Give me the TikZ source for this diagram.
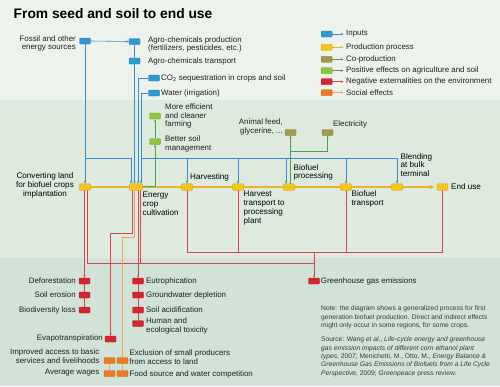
\documentclass[tikz,border=0pt]{standalone}
\usepackage{fontspec}
\setmainfont{Liberation Sans}
\usetikzlibrary{arrows.meta,calc}
\pgfdeclarelayer{bgfill}
\pgfdeclarelayer{lines}
\pgfsetlayers{bgfill,lines,main}
\definecolor{bgtop}{HTML}{EEF2EC}
\definecolor{bgmid}{HTML}{DDEADD}
\definecolor{bgbot}{HTML}{D1E2D7}
\definecolor{cblue}{HTML}{2E9AD0}
\definecolor{lblue}{HTML}{3A8DCB}
\definecolor{cyel}{HTML}{F5C518}
\definecolor{lyel}{HTML}{EFB02E}
\definecolor{colive}{HTML}{A39A4C}
\definecolor{cgreen}{HTML}{8CC63F}
\definecolor{lgreen}{HTML}{4E9E5A}
\definecolor{cred}{HTML}{D5262F}
\definecolor{lred}{HTML}{D2484F}
\definecolor{corange}{HTML}{F07A22}
\definecolor{lorange}{HTML}{EFA266}
\definecolor{txtc}{HTML}{1F1F1F}
\definecolor{notec}{HTML}{3A3A3A}
\tikzset{
  boxs/.style={rectangle, rounded corners=0.8pt, minimum width=11pt, minimum height=6pt, inner sep=0pt, line width=0.3pt},
  inb/.style={boxs, fill=cblue, draw=cblue!80!black},
  prb/.style={boxs, minimum height=6.5pt, fill=cyel, draw=cyel!80!black},
  cob/.style={boxs, fill=colive, draw=colive!80!black},
  posb/.style={boxs, fill=cgreen, draw=cgreen!80!black},
  negb/.style={boxs, fill=cred, draw=cred!80!black},
  socb/.style={boxs, fill=corange, draw=corange!80!black},
  txt/.style={font=\fontsize{7.9}{8.8}\selectfont, inner sep=0pt, text=txtc, align=left},
  ptxt/.style={font=\fontsize{8.1}{8.7}\selectfont, inner sep=0pt, text=black, align=left},
  notet/.style={font=\fontsize{6.7}{8.3}\selectfont, inner sep=0pt, text=notec, align=left},
  tip/.style={-{Stealth[length=2.6pt,width=2.2pt]}},
  bll/.style={draw=lblue, line width=0.6pt},
  gll/.style={draw=lgreen, line width=0.6pt},
  rll/.style={draw=lred, line width=0.6pt},
  oll/.style={draw=lorange, line width=0.6pt},
  yll/.style={draw=lyel, line width=0.6pt},
  prodline/.style={draw=lyel, line width=1.8pt},
}
\begin{document}
\begin{tikzpicture}[x=1pt,y=-1pt]
\begin{pgfonlayer}{bgfill}
\fill[bgtop] (0,0) rectangle (500,100);
\fill[bgmid] (0,100) rectangle (500,258);
\fill[bgbot] (0,258) rectangle (500,386);
\end{pgfonlayer}
\useasboundingbox (0,0) rectangle (500,386);

\node[anchor=base west, font=\fontsize{13.8}{16}\selectfont\bfseries, inner sep=0pt, text=black] (title) at (13.5,18.3) {From seed and soil to end use};

% inputs
\node[inb] (fos) at (85,41) {};
\node[txt, align=right, anchor=east] (fost) at (76,43.5) {Fossil and other\\energy sources};
\node[inb] (apr) at (134.5,41.5) {};
\node[txt, anchor=west] (aprt) at (148,44.5) {Agro-chemicals production\\(fertilizers, pesticides, etc.)};
\node[inb] (atr) at (134.5,61) {};
\node[txt, anchor=west] (atrt) at (148,61) {Agro-chemicals transport};
\node[inb] (co2) at (154,78) {};
\node[txt, anchor=west] (co2t) at (161,78) {CO\textsubscript{2} sequestration in crops and soil};
\node[inb] (wat) at (154,93) {};
\node[txt, anchor=west] (watt) at (161,93) {Water (irrigation)};

% positive effects
\node[posb] (me) at (155,116) {};
\node[txt, anchor=west] (met) at (165,116) {More efficient\\and cleaner\\farming};
\node[posb] (bs) at (155,141.5) {};
\node[txt, anchor=west] (bst) at (165,144) {Better soil\\management};

% co-production
\node[cob] (af) at (290.5,132.5) {};
\node[txt, align=right, anchor=east] (aft) at (283,127) {Animal feed,\\glycerine, ...};
\node[cob] (el) at (327.5,132.5) {};
\node[txt, anchor=west] (elt) at (333,124.5) {Electricity};

% production process
\node[prb] (cl) at (85,187) {};
\node[ptxt, align=center] (clt) at (45,185.5) {Converting land\\for biofuel crops\\implantation};
\node[prb, minimum width=13pt] (ec) at (136,187) {};
\node[ptxt, anchor=west] (ect) at (142.5,203.7) {Energy\\crop\\cultivation};
\node[prb] (hv) at (187,187) {};
\node[ptxt, anchor=west] (hvt) at (190,177.3) {Harvesting};
\node[prb] (ht) at (238,187) {};
\node[ptxt, anchor=west] (htt) at (243.5,208) {Harvest\\transport to\\processing\\plant};
\node[prb] (bp) at (289,187) {};
\node[ptxt, anchor=west] (bpt) at (293.5,172.5) {Biofuel\\processing};
\node[prb] (bt) at (346,187) {};
\node[ptxt, anchor=west] (btt) at (351.5,199.2) {Biofuel\\transport};
\node[prb] (bl) at (397,187) {};
\node[ptxt, anchor=west] (blt) at (400.5,165) {Blending\\at bulk\\terminal};
\node[prb] (eu) at (442.5,187) {};
\node[ptxt, anchor=west] (eut) at (451,187) {End use};

% negative effects
\node[negb] (d1) at (84.5,281) {};
\node[txt, anchor=east] (d1t) at (76,281) {Deforestation};
\node[negb] (d2) at (84.5,295) {};
\node[txt, anchor=east] (d2t) at (76,295) {Soil erosion};
\node[negb] (d3) at (84.5,310) {};
\node[txt, anchor=east] (d3t) at (76,310) {Biodiversity loss};
\node[negb] (e1) at (138,281) {};
\node[txt, anchor=west] (e1t) at (146,281.5) {Eutrophication};
\node[negb] (e2) at (138,295) {};
\node[txt, anchor=west] (e2t) at (146,295.5) {Groundwater depletion};
\node[negb] (e3) at (138,310) {};
\node[txt, anchor=west] (e3t) at (146,310) {Soil acidification};
\node[negb] (e4) at (138,323.5) {};
\node[txt, anchor=west] (e4t) at (146,326.2) {Human and\\ecological toxicity};
\node[negb] (ev) at (110.5,339) {};
\node[txt, anchor=east] (evt) at (103,338.5) {Evapotranspiration};
\node[negb] (gh) at (314,281) {};
\node[txt, anchor=west] (ght) at (320.7,281.5) {Greenhouse gas emissions};

% social effects
\node[socb] (ia) at (109.5,360.5) {};
\node[txt, align=right, anchor=east] (iat) at (99.5,356.2) {Improved access to basic\\services and livelihoods};
\node[socb] (aw) at (109.5,373.5) {};
\node[txt, anchor=east] (awt) at (99.5,373) {Average wages};
\node[socb] (ex) at (122.5,360.5) {};
\node[txt, anchor=west] (ext) at (129.3,357.2) {Exclusion of small producers\\from access to land};
\node[socb] (fs) at (122.5,373.5) {};
\node[txt, anchor=west] (fst) at (129.3,374) {Food source and water competition};

% legend
\node[inb] (lg1) at (326.7,34) {};
\node[prb, minimum height=6pt] (lg2) at (326.7,47.3) {};
\node[cob] (lg3) at (326.7,59.3) {};
\node[posb] (lg4) at (326.7,70.7) {};
\node[negb] (lg5) at (326.7,81.7) {};
\node[socb] (lg6) at (326.7,92.7) {};
\node[txt, anchor=west] (lt1) at (346,34) {Inputs};
\node[txt, anchor=west] (lt2) at (346,47.3) {Production process};
\node[txt, anchor=west] (lt3) at (346,59.3) {Co-production};
\node[txt, anchor=west] (lt4) at (346,70.7) {Positive effects on agriculture and soil};
\node[txt, anchor=west] (lt5) at (346,81.7) {Negative externalities on the environment};
\node[txt, anchor=west] (lt6) at (346,92.7) {Social effects};

% notes
\node[notet, anchor=base west] (note) at (321,327.3) {Note: the diagram shows a generalized process for first\\generation biofuel production. Direct and indirect effects\\might only occur in some regions, for some crops.};
\node[notet, anchor=base west] (src) at (321,375) {Source: Wang \textit{et al.}, \textit{Life-cycle energy and greenhouse}\\\textit{gas emission impacts of different corn ethanol plant}\\\textit{types}, 2007; Menichetti, M., Otto, M., \textit{Energy Balance \&}\\\textit{Greenhouse Gas Emissions of Biofuels from a Life Cycle}\\\textit{Perspective}, 2009; \textit{Greenpeace} press review.};

\begin{pgfonlayer}{lines}
% legend arrows
\draw[bll, tip] (lg1.east) -- (lt1.west -| 343.5,0);
\draw[yll, tip] (lg2.east) -- (lt2.west -| 343.5,0);
\draw[gll, tip] (lg3.east) -- (lt3.west -| 343.5,0);
\draw[gll, tip] (lg4.east) -- (lt4.west -| 343.5,0);
\draw[rll, tip] (lg5.east) -- (lt5.west -| 343.5,0);
\draw[oll, tip] (lg6.east) -- (lt6.west -| 343.5,0);

% production line
\draw[prodline] (cl.center) -- (bl.center);
\draw[prodline, -{Stealth[length=5pt,width=4.5pt]}] (bl.center) -- ($(eu.west)+(-2.5,0)$);

% inputs
\draw[bll, tip] (fos.east) -- (apr.west);
\draw[bll, tip] (fos.south) -- (cl.north);
\coordinate (j1) at (131,158);
\draw[bll] (fos.south |- j1) -- (j1);
\draw[bll, tip] (j1) -- (j1 |- ec.north);
\draw[bll] (apr.south) -- (atr.north);
\draw[bll, tip] (atr.south) -- (atr.south |- ec.north);
\coordinate (kc) at (138,78);
\draw[bll, tip] (co2.west) -- (kc) -- (kc |- ec.north);
\coordinate (kw) at (141,93);
\draw[bll, tip] (wat.west) -- (kw) -- (kw |- ec.north);
\coordinate (j2) at (141,158);
\draw[bll, tip] (j2) -- (bl.north |- j2) -- (bl.north);
\draw[bll, tip] (hv.north |- j2) -- (hv.north);
\draw[bll, tip] (ht.north |- j2) -- (ht.north);
\coordinate (kp) at (286,158);
\draw[bll, tip] (kp) -- (kp |- bp.north);
\draw[bll, tip] (bt.north |- j2) -- (bt.north);

% positive
\draw[gll, tip] (bs.north) -- (me.south);
\coordinate (g1) at (155,186);
\draw[gll, tip] (ec.east |- g1) -- (g1) -- (bs.south);

% co-production
\draw[gll, tip] (af.south |- bp.north) -- (af.south);
\coordinate (g2) at (290.5,151);
\draw[gll, tip] (g2) -- (g2 -| el.south) -- (el.south);

% negative
\draw[rll, tip] (d1.north |- cl.south) -- (d1.north);
\coordinate (r1) at (87.5,263);
\draw[rll] (r1 |- cl.south) -- (r1) -- (r1 -| gh.north);
\coordinate (r2) at (187,252);
\draw[rll] (hv.south) -- (r2) -- (r2 -| eu.south) -- (eu.south);
\draw[rll] (ht.south) -- (ht.south |- r2);
\draw[rll] (bt.south) -- (bt.south |- r2);
\draw[rll, tip] (gh.north |- r2) -- (gh.north);
\coordinate (r3) at (139.8,263);
\draw[rll] (r3 |- ec.south) -- (r3);
\draw[rll, tip] (e1.north |- ec.south) -- (e1.north);
\coordinate (r4) at (132,233);
\draw[rll, tip] (r4 |- ec.south) -- (r4) -- (r4 -| ev.north) -- (ev.north);
\coordinate (o1) at (134.5,237.5);
\draw[oll, tip] (o1 |- ec.south) -- (o1) -- (o1 -| ex.north) -- (ex.north);
\draw[rll] (d1) -- (d2) -- (d3);
\draw[rll] (e1) -- (e2) -- (e3) -- (e4);
\draw[oll] (ia) -- (aw);
\draw[oll] (ex) -- (fs);
\end{pgfonlayer}
\end{tikzpicture}
\end{document}
